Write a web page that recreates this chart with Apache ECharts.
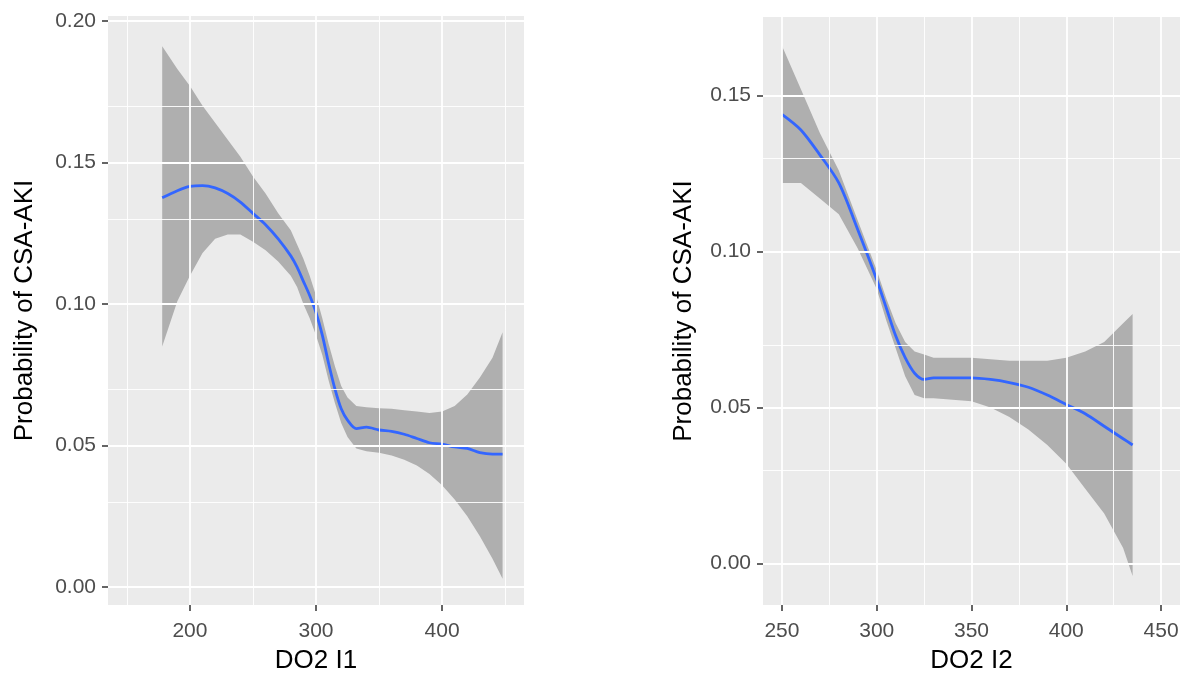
<!DOCTYPE html>
<html>
<head>
<meta charset="utf-8">
<script src="https://cdn.jsdelivr.net/npm/echarts@6/dist/echarts.min.js"></script>
<style>
html,body{margin:0;padding:0;background:#fff;}
#c{width:1183px;height:679px;}
</style>
</head>
<body>
<div id="c"></div>
<script>
// ---- Panel 1 (DO2 I1) ----
const x1 = [178,190,200,210,220,230,240,250,260,270,280,285,290,295,300,305,310,315,320,325,332,340,350,360,370,380,390,400,410,420,430,440,448];
const fit1 = [0.1375,0.140,0.1415,0.1418,0.141,0.139,0.136,0.132,0.128,0.123,0.117,0.113,0.108,0.103,0.097,0.089,0.079,0.070,0.063,0.059,0.056,0.0565,0.0555,0.055,0.054,0.0525,0.051,0.0505,0.0495,0.049,0.0475,0.047,0.047];
const lo1 = [0.085,0.101,0.110,0.118,0.123,0.1245,0.1245,0.122,0.119,0.115,0.110,0.106,0.100,0.095,0.089,0.082,0.073,0.065,0.058,0.053,0.049,0.048,0.0475,0.0465,0.045,0.043,0.040,0.036,0.031,0.025,0.018,0.010,0.003];
const hi1 = [0.191,0.183,0.177,0.170,0.164,0.158,0.152,0.145,0.139,0.132,0.126,0.121,0.116,0.110,0.103,0.095,0.086,0.078,0.071,0.067,0.064,0.0635,0.0632,0.063,0.0625,0.062,0.0615,0.062,0.064,0.068,0.074,0.081,0.090];
const xTicks1 = [200,300,400];
const xMinor1 = [150,250,350,450];
const yTicks1 = [0,0.05,0.10,0.15,0.20];
const yMinor1 = [0.025,0.075,0.125,0.175];

// ---- Panel 2 (DO2 I2) ----
const x2 = [250,260,270,280,290,300,305,310,315,320,325,330,340,350,360,370,380,390,400,410,420,430,435];
const fit2 = [0.144,0.139,0.131,0.122,0.107,0.091,0.082,0.073,0.066,0.061,0.059,0.0595,0.0595,0.0595,0.059,0.058,0.0565,0.054,0.051,0.048,0.044,0.040,0.038];
const lo2 = [0.122,0.122,0.117,0.112,0.101,0.088,0.078,0.069,0.060,0.054,0.053,0.053,0.0525,0.052,0.050,0.047,0.043,0.038,0.032,0.024,0.016,0.005,-0.004];
const hi2 = [0.166,0.152,0.138,0.126,0.110,0.094,0.085,0.077,0.071,0.068,0.067,0.066,0.066,0.066,0.0655,0.065,0.065,0.065,0.066,0.068,0.071,0.077,0.080];
const xTicks2 = [250,300,350,400,450];
const xMinor2 = [275,325,375,425];
const yTicks2 = [0,0.05,0.10,0.15];
const yMinor2 = [0.025,0.075,0.125];

const FONT = 'Liberation Sans, Arial, sans-serif';
const PANEL = '#EBEBEB';
const BAND = '#AFAFAF';
const LINE = '#3366FF';

function bandSeries(idx, xs, lo, hi) {
  return {
    type: 'custom', xAxisIndex: idx, yAxisIndex: idx, z: 2, silent: true,
    data: xs.map((v, i) => [v, lo[i], hi[i]]),
    encode: { x: 0, y: [1, 2] },
    renderItem: function (params, api) {
      if (params.dataIndex !== 0) return null;
      const pts = [];
      for (let i = 0; i < xs.length; i++) pts.push(api.coord([xs[i], hi[i]]));
      for (let i = xs.length - 1; i >= 0; i--) pts.push(api.coord([xs[i], lo[i]]));
      return { type: 'polygon', shape: { points: pts }, style: { fill: BAND } };
    }
  };
}
function gridSeries(idx, xMaj, xMin, yMaj, yMin) {
  const d = [];
  xMaj.forEach(v => d.push({ xAxis: v, lineStyle: { width: 1.8 } }));
  yMaj.forEach(v => d.push({ yAxis: v, lineStyle: { width: 1.8 } }));
  xMin.forEach(v => d.push({ xAxis: v, lineStyle: { width: 0.9 } }));
  yMin.forEach(v => d.push({ yAxis: v, lineStyle: { width: 0.9 } }));
  return {
    type: 'line', xAxisIndex: idx, yAxisIndex: idx, z: 1, data: [], silent: true,
    markLine: { silent: true, symbol: 'none', label: { show: false }, animation: false,
      lineStyle: { color: '#FFFFFF', type: 'solid' }, data: d }
  };
}
function lineSeries(idx, xs, ys) {
  return {
    type: 'line', xAxisIndex: idx, yAxisIndex: idx, z: 3, silent: true,
    data: xs.map((v, i) => [v, ys[i]]), showSymbol: false, smooth: 0.3,
    lineStyle: { color: LINE, width: 2.8 }
  };
}
function xAxisDef(idx, min, max, ticks, name) {
  return {
    type: 'value', gridIndex: idx, min: min, max: max,
    splitLine: { show: false }, axisLine: { show: false, onZero: false },
    axisTick: { show: true, length: 6, customValues: ticks, lineStyle: { color: '#333333', width: 1.5 } },
    axisLabel: { customValues: ticks, color: '#4D4D4D', fontSize: 21, fontFamily: FONT, margin: 16 },
    name: name, nameLocation: 'middle', nameGap: 43,
    nameTextStyle: { color: '#000', fontSize: 26, fontFamily: FONT }
  };
}
function yAxisDef(idx, min, max, ticks, gap) {
  return {
    type: 'value', gridIndex: idx, min: min, max: max,
    splitLine: { show: false }, axisLine: { show: false, onZero: false },
    axisTick: { show: true, length: 6, customValues: ticks, lineStyle: { color: '#333333', width: 1.5 } },
    axisLabel: { customValues: ticks, color: '#4D4D4D', fontSize: 21, fontFamily: FONT, margin: 12,
      formatter: v => v.toFixed(2) },
    name: 'Probability of CSA-AKI', nameLocation: 'middle', nameGap: gap,
    nameTextStyle: { color: '#000', fontSize: 26, fontFamily: FONT }
  };
}

const chart = echarts.init(document.getElementById('c'), null, { renderer: 'canvas' });
chart.setOption({
  animation: false,
  backgroundColor: '#FFFFFF',
  grid: [
    { left: 108, top: 16, width: 416, height: 591, show: true, backgroundColor: PANEL, borderWidth: 0 },
    { left: 763, top: 17, width: 417, height: 591, show: true, backgroundColor: PANEL, borderWidth: 0 }
  ],
  xAxis: [
    xAxisDef(0, 135, 465, xTicks1, 'DO2 I1'),
    xAxisDef(1, 240, 460, xTicks2, 'DO2 I2')
  ],
  yAxis: [
    yAxisDef(0, -0.0063, 0.2017, yTicks1, 70),
    yAxisDef(1, -0.0133, 0.1752, yTicks2, 66)
  ],
  series: [
    gridSeries(0, xTicks1, xMinor1, yTicks1, yMinor1),
    gridSeries(1, xTicks2, xMinor2, yTicks2, yMinor2),
    bandSeries(0, x1, lo1, hi1),
    bandSeries(1, x2, lo2, hi2),
    lineSeries(0, x1, fit1),
    lineSeries(1, x2, fit2)
  ]
});
</script>
</body>
</html>
